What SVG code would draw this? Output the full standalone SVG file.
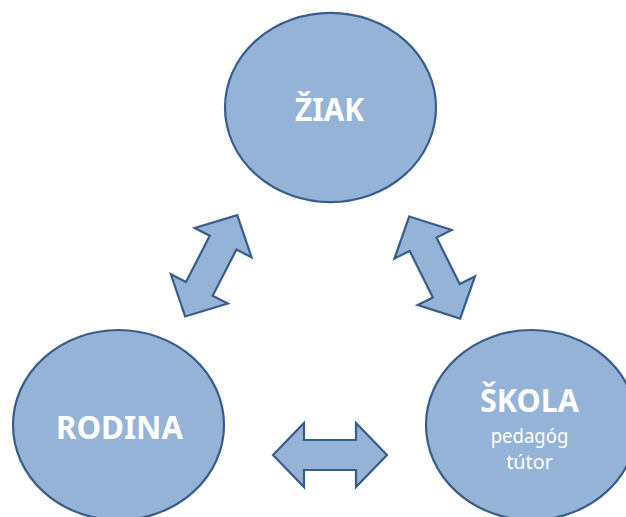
<svg xmlns="http://www.w3.org/2000/svg" width="626" height="517" viewBox="0 0 626 517">
  <style>
    .node { fill: #95B3D7; stroke: #385D8A; stroke-width: 2.2; }
    .arrow { fill: #95B3D7; stroke: #385D8A; stroke-width: 2.2; stroke-linejoin: miter; }
    .title { font-family: "Noto Sans", "Open Sans", "Liberation Sans", sans-serif; font-weight: bold; font-size: 32px; fill: #FFFFFF; text-anchor: middle; }
    .sub { font-family: "Noto Sans", "Open Sans", "Liberation Sans", sans-serif; font-size: 19px; fill: #FFFFFF; text-anchor: middle; }
  </style>
  <defs>
    <path id="dblarrow" d="M -57,0 L -26,-32 L -26,-15 L 26,-15 L 26,-32 L 57,0 L 26,32 L 26,15 L -26,15 L -26,32 Z"/>
  </defs>
  <rect x="0" y="0" width="626" height="517" fill="#FFFFFF"/>
  <g id="connectors">
    <use href="#dblarrow" class="arrow" transform="translate(211.2,265.8) rotate(-62.8)"/>
    <use href="#dblarrow" class="arrow" transform="translate(434.7,267.5) rotate(63.5)"/>
    <use href="#dblarrow" class="arrow" transform="translate(330,455)"/>
  </g>
  <g id="ziak">
    <ellipse class="node" cx="330.5" cy="107.5" rx="105.5" ry="94.6"/>
    <text class="title" x="329.5" y="120.7" textLength="69" lengthAdjust="spacingAndGlyphs">ŽIAK</text>
  </g>
  <g id="rodina">
    <ellipse class="node" cx="118.5" cy="425" rx="105.5" ry="95"/>
    <text class="title" x="119.5" y="439" textLength="127" lengthAdjust="spacingAndGlyphs">RODINA</text>
  </g>
  <g id="skola">
    <ellipse class="node" cx="531.5" cy="425" rx="105.5" ry="95"/>
    <text class="title" x="529.5" y="411.7" textLength="99" lengthAdjust="spacingAndGlyphs">ŠKOLA</text>
    <text class="sub" x="529.5" y="443" textLength="77.6" lengthAdjust="spacingAndGlyphs">pedagóg</text>
    <text class="sub" x="529.5" y="468.5" textLength="46.7" lengthAdjust="spacingAndGlyphs">tútor</text>
  </g>
</svg>
